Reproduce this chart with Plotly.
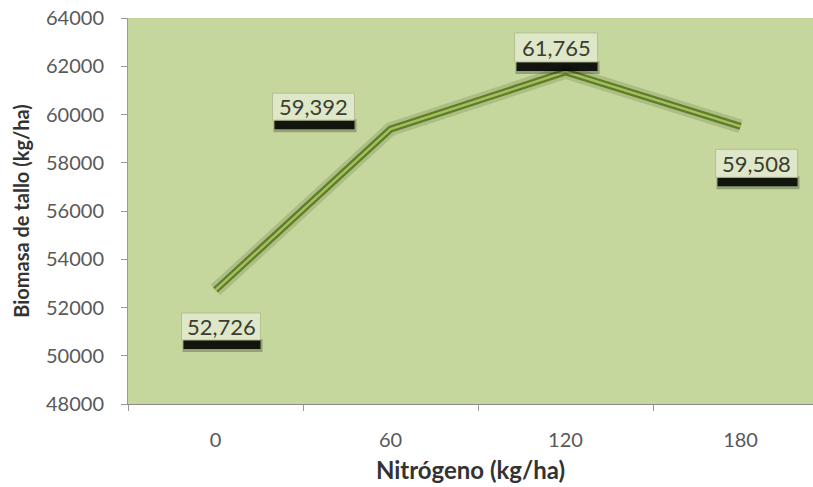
import plotly.graph_objects as go

# ---- data ----
nitrogen = ["0", "60", "120", "180"]
biomass = [52726, 59392, 61765, 59508]
labels = ["52,726", "59,392", "61,765", "59,508"]
y_ticks = [48000, 50000, 52000, 54000, 56000, 58000, 60000, 62000, 64000]

# label box offsets in pixels relative to the data point: (x0, x1, ytop, ybottom), screen-down positive
box_offsets = [(-34, 45, 23, 50), (-118, -36, -36, -9), (-51, 32, -39, -10), (-25, 57, 23, 51)]

FONT = "Lato"
fig = go.Figure()

# soft shadow of the line
fig.add_trace(go.Scatter(x=nitrogen, y=biomass, mode="lines",
                         line=dict(color="rgba(60,80,20,0.18)", width=14),
                         hoverinfo="skip", showlegend=False))
# outer dark line
fig.add_trace(go.Scatter(x=nitrogen, y=biomass, mode="lines",
                         line=dict(color="#5f7d29", width=7),
                         hoverinfo="skip", showlegend=False))
# inner highlight
fig.add_trace(go.Scatter(x=nitrogen, y=biomass, mode="lines",
                         line=dict(color="#a3c060", width=2.5),
                         showlegend=False))

shapes = []
annotations = []
for i, (val, txt, (x0, x1, yt, yb)) in enumerate(zip(biomass, labels, box_offsets)):
    common = dict(type="rect", xref="x", yref="y", xsizemode="pixel", ysizemode="pixel",
                  xanchor=i, yanchor=val)
    # shadow bar under the box
    shapes.append(dict(common, x0=x0 + 1, x1=x1 + 2, y0=-(yb + 12), y1=-(yb - 1),
                       fillcolor="rgba(0,0,0,0.25)", line=dict(width=0)))
    shapes.append(dict(common, x0=x0 + 2, x1=x1, y0=-(yb + 9), y1=-(yb - 1),
                       fillcolor="rgba(0,0,0,0.88)", line=dict(width=0)))
    # box
    shapes.append(dict(common, x0=x0, x1=x1, y0=-yb, y1=-yt,
                       fillcolor="#dfe7c9", line=dict(color="#b3bf94", width=1)))
    annotations.append(dict(x=i, y=val, xref="x", yref="y", text=txt, showarrow=False,
                            xshift=(x0 + x1) / 2, yshift=-(yt + yb) / 2,
                            font=dict(family=FONT, size=22, color="#3a3d30")))

fig.update_layout(
    width=813, height=487,
    margin=dict(l=128, r=0, t=18, b=83),
    paper_bgcolor="white",
    plot_bgcolor="#c5d79c",
    shapes=shapes,
    annotations=annotations,
    xaxis=dict(type="category", range=[-0.5, 3.414],
               showgrid=False, showline=True, linecolor="#8a8a8a", linewidth=1,
               ticks="outside", tickson="boundaries", ticklen=6, tickcolor="#9a9a9a",
               ticklabelstandoff=18,
               tickfont=dict(family=FONT, size=20, color="#595959"),
               title=dict(text="<b>Nitrógeno (kg/ha)</b>", standoff=12,
                          font=dict(family=FONT, size=24, color="#333333"))),
    yaxis=dict(range=[48000, 64000], tickvals=y_ticks, tickformat="d",
               showgrid=False, showline=True, linecolor="#9a9a9a", linewidth=1,
               ticks="outside", ticklen=6, tickcolor="#9a9a9a",
               ticklabelstandoff=13,
               tickfont=dict(family=FONT, size=20, color="#595959"),
               title=dict(text="<b>Biomasa de tallo (kg/ha)</b>", standoff=11,
                          font=dict(family=FONT, size=20, color="#333333")),
               zeroline=False),
)

fig.write_html("out.html", config={"displayModeBar": False},
               post_script="document.body.style.margin='0px';")
